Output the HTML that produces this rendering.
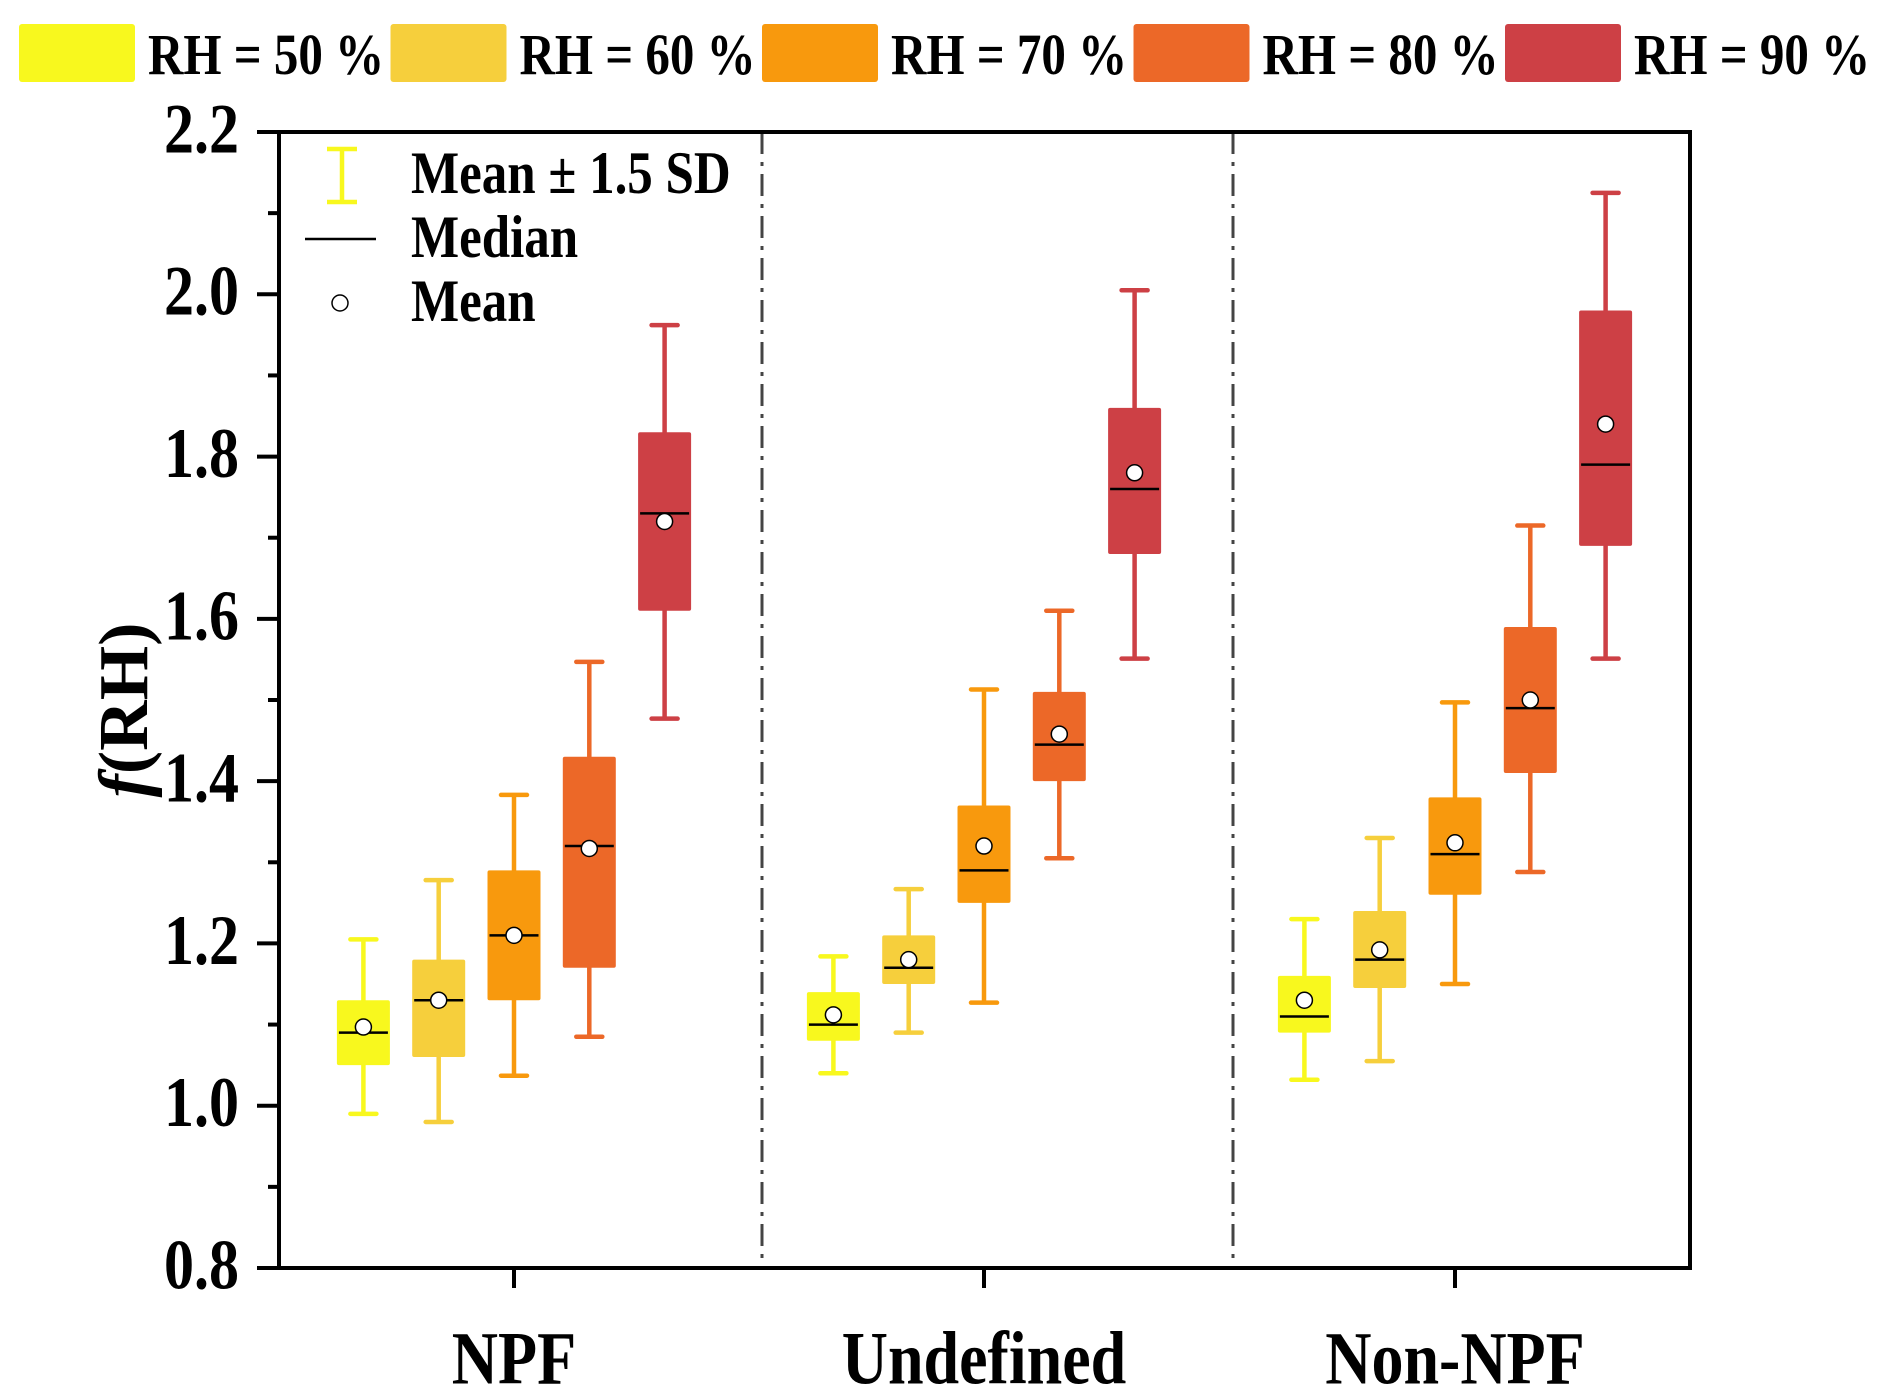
<!DOCTYPE html>
<html><head><meta charset="utf-8">
<style>
html,body{margin:0;padding:0;background:#fff;}
svg{display:block;}
text{font-family:"Liberation Serif",serif;font-weight:bold;fill:#000;}
</style></head>
<body>
<svg id="chart" width="1892" height="1397" viewBox="0 0 1892 1397" xmlns="http://www.w3.org/2000/svg"></svg>
<script>
const categories = ["NPF","Undefined","Non-NPF"];
const seriesNames = ["RH = 50 %","RH = 60 %","RH = 70 %","RH = 80 %","RH = 90 %"];
const colors = ["#f8f81e","#f6cf3c","#f8990d","#ec6828","#cd4045"];
// [category][series]
const whiskLow = [[0.99,0.98,1.037,1.085,1.477],[1.04,1.09,1.127,1.305,1.551],[1.032,1.055,1.15,1.288,1.551]];
const whiskHigh = [[1.205,1.278,1.383,1.547,1.962],[1.184,1.267,1.513,1.61,2.005],[1.23,1.33,1.497,1.715,2.125]];
const q1 = [[1.05,1.06,1.13,1.17,1.61],[1.08,1.15,1.25,1.40,1.68],[1.09,1.145,1.26,1.41,1.69]];
const q3 = [[1.13,1.18,1.29,1.43,1.83],[1.14,1.21,1.37,1.51,1.86],[1.16,1.24,1.38,1.59,1.98]];
const medians = [[1.09,1.13,1.21,1.32,1.73],[1.10,1.17,1.29,1.445,1.76],[1.11,1.18,1.31,1.49,1.79]];
const means = [[1.097,1.13,1.21,1.317,1.72],[1.112,1.18,1.32,1.458,1.78],[1.13,1.192,1.324,1.50,1.84]];
const yTicks = [0.8,1.0,1.2,1.4,1.6,1.8,2.0,2.2];
const yTickLabels = ["0.8","1.0","1.2","1.4","1.6","1.8","2.0","2.2"];

const svg = document.getElementById('chart');
const NS = "http://www.w3.org/2000/svg";
const L=279,R=1690,T=132,B=1268,yMin=0.8,yMax=2.2;
const catX=[514,984,1455], boxStep=75.3, boxW=53;
function y(v){return B-(v-yMin)/(yMax-yMin)*(B-T);}
function xOf(c,s){return catX[c]+(s-2)*boxStep;}
function mk(tag,attrs,parent){const e=document.createElementNS(NS,tag);for(const k in attrs)e.setAttribute(k,attrs[k]);(parent||svg).appendChild(e);return e;}
function txt(str,x,yy,size,anchor,parent){const t=mk('text',{x:x,y:yy,'font-size':size,'text-anchor':anchor||'start'},parent);t.textContent=str;t.style.transformBox='fill-box';t.style.transformOrigin='center';t.style.transform='scaleY(1.18)';return t;}

// top legend
for(let s=0;s<5;s++){
  const gx=19+s*371.5;
  const g=mk('g',{});
  
  
  mk('rect',{x:gx,y:24,width:116,height:58,rx:3,fill:colors[s]},g);
  txt(seriesNames[s],gx+129,71,49,'start',g);
}

// dividers
[762,1233].forEach((dx,i)=>{
  const l=mk('line',{x1:dx,y1:T,x2:dx,y2:B,stroke:'#444','stroke-width':3,'stroke-dasharray':'22,8,4,8'});
  
  
});

// boxes
for(let c=0;c<3;c++){
  for(let s=0;s<5;s++){
    const g=mk('g',{});
    
    
    const cx=xOf(c,s),col=colors[s];
    mk('line',{x1:cx,y1:y(whiskLow[c][s]),x2:cx,y2:y(whiskHigh[c][s]),stroke:col,'stroke-width':4.5},g);
    mk('line',{x1:cx-13,y1:y(whiskLow[c][s]),x2:cx+13,y2:y(whiskLow[c][s]),stroke:col,'stroke-width':4.5,'stroke-linecap':'round'},g);
    mk('line',{x1:cx-13,y1:y(whiskHigh[c][s]),x2:cx+13,y2:y(whiskHigh[c][s]),stroke:col,'stroke-width':4.5,'stroke-linecap':'round'},g);
    mk('rect',{x:cx-boxW/2,y:y(q3[c][s]),width:boxW,height:y(q1[c][s])-y(q3[c][s]),rx:2,fill:col},g);
    mk('line',{x1:cx-boxW/2+2,y1:y(medians[c][s]),x2:cx+boxW/2-2,y2:y(medians[c][s]),stroke:'#000','stroke-width':2.5},g);
    mk('circle',{cx:cx,cy:y(means[c][s]),r:8,fill:'#fff',stroke:'#000','stroke-width':1.5},g);
  }
}

// axes frame
const frame=mk('rect',{x:L,y:T,width:R-L,height:B-T,fill:'none',stroke:'#000','stroke-width':4});



// y ticks
const yAxis=mk('g',{});


yTicks.forEach((v,i)=>{
  mk('line',{x1:L-22,y1:y(v),x2:L,y2:y(v),stroke:'#000','stroke-width':4},yAxis);
  if(i<yTicks.length-1){const m=(v+yTicks[i+1])/2;mk('line',{x1:L-11,y1:y(m),x2:L,y2:y(m),stroke:'#000','stroke-width':4},yAxis);}
  txt(yTickLabels[i],L-40,y(v)+17,60,'end',yAxis);
});
// x ticks
const xAxis=mk('g',{});


categories.forEach((c,i)=>{
  mk('line',{x1:catX[i],y1:B,x2:catX[i],y2:B+20,stroke:'#000','stroke-width':4},xAxis);
  txt(c,catX[i],1380,64,'middle',xAxis);
});
// y axis title
const yt=mk('text',{x:0,y:0,'font-size':70,'text-anchor':'middle',transform:'translate(147,710) rotate(-90)'});


const ti=mk('tspan',{'font-style':'italic'},yt);ti.textContent='f';
const tr=mk('tspan',{},yt);tr.textContent='(RH)';

// inner legend
const lg=mk('g',{});


mk('line',{x1:342,y1:149,x2:342,y2:202,stroke:'#f8f81e','stroke-width':4.5},lg);
mk('line',{x1:327,y1:149,x2:357,y2:149,stroke:'#f8f81e','stroke-width':4.5},lg);
mk('line',{x1:327,y1:202,x2:357,y2:202,stroke:'#f8f81e','stroke-width':4.5},lg);
txt('Mean \u00b1 1.5 SD',411,190,51,'start',lg);
mk('line',{x1:305,y1:239,x2:376,y2:239,stroke:'#000','stroke-width':2.5},lg);
txt('Median',411,254,51,'start',lg);
mk('circle',{cx:340,cy:303,r:8,fill:'#fff',stroke:'#000','stroke-width':1.5},lg);
txt('Mean',411,318,51,'start',lg);
</script>
</body></html>
